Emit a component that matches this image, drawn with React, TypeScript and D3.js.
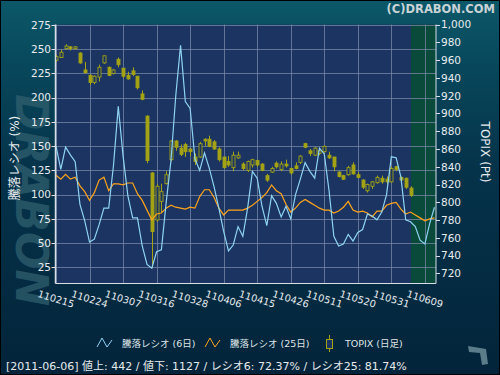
import React from "react";
import * as d3 from "d3";

const tickLabels = ["110215","110224","110307","110316","110328","110406","110415","110426","110511","110520","110531","110609"];
const tickIdx = [0,7,14,21,28,35,42,49,56,63,70,77];
const leftTicks = [25,50,75,100,125,150,175,200,225,250,275];
const rightTicks = [720,740,760,780,800,820,840,860,880,900,920,940,960,980,1000];

const open = [960,963,973,975,973,968,949,943,935,941,
  957,952,945,961,951,943,948,942,922,897,
  833,780,801,821,848,869,861,865,860,851,
  851,871,871,868,860,851,846,839,850,843,
  836,842,847,843,830,834,844,837,843,838,
  841,845,866,858,853,855,857,853,851,834,
  830,831,842,831,825,813,818,822,827,826,
  823,840,828,827,816];
const close = [964,969,976,973,975,957,946,935,942,952,
  965,943,949,955,942,939,944,929,916,847,
  767,818,812,831,869,862,854,857,857,846,
  866,869,863,860,848,839,842,853,853,838,
  846,848,842,836,825,838,840,843,841,833,
  838,852,862,855,861,858,863,850,840,829,
  826,839,832,828,817,820,823,828,823,823,
  838,837,825,817,808];
const high = [966,972,978,976,976,969,958,944,943,955,
  965,953,950,963,951,947,952,942,926,898,
  834,821,821,835,870,870,865,867,861,855,
  868,872,875,870,862,851,852,857,857,845,
  847,849,848,844,832,840,846,846,848,839,
  845,853,867,860,862,860,864,857,851,835,
  831,841,845,834,826,821,824,830,830,829,
  840,841,829,828,818];
const low = [958,963,972,971,972,956,945,932,933,936,
  956,942,944,952,940,938,942,927,915,844,
  726,778,789,820,846,858,852,851,852,842,
  850,863,862,859,846,838,840,835,849,836,
  834,839,840,835,823,833,838,835,839,831,
  837,843,861,852,852,853,856,849,835,828,
  825,830,831,827,815,811,815,821,821,820,
  822,835,823,815,806];
const ratio6 = [150,126,149,141,134,90,73,51,54,69,
  86,86,130,191,140,99,76,76,47,28,
  24,41,43,92,135,202,254,196,189,137,
  125,143,127,108,86,62,42,48,67,57,
  86,124,117,88,68,99,91,77,88,75,
  100,116,133,124,117,148,142,104,57,47,
  49,59,52,61,64,80,78,74,82,100,
  139,138,118,74,72,67,53,49,70,87];
const ratio25 = [120,116,121,116,118,109,103,94,102,115,
  118,104,111,111,110,112,112,101,94,84,
  74,80,81,86,89,87,86,85,87,86,
  98,105,105,97,86,79,84,84,84,84,
  86,89,93,97,102,110,104,101,90,82,
  86,92,95,92,89,86,84,84,81,83,
  87,93,84,82,83,81,77,83,83,89,
  91,92,85,80,82,79,76,73,75,76];

const legendLabels = ["騰落レシオ (6日)", "騰落レシオ (25日)", "TOPIX (日足)"];
const footerText = "[2011-06-06]  値上: 442 / 値下: 1127 / レシオ6: 72.37% / レシオ25: 81.74%";

const W = 500, H = 375;
const P = { left: 55.5, right: 436, top: 24.5, bottom: 283.5 };
const FONT = "'DejaVu Sans', 'Noto Sans CJK JP', sans-serif";

export default function App() {
  const x = d3.scaleLinear().domain([0, 74]).range([56, 410.5]);
  const yL = d3.scaleLinear().domain([25, 275]).range([267.3, 25]);
  const yR = d3.scaleLinear().domain([720, 1000]).range([273.3, 24.7]);
  const line6 = d3.line<number>().x((_, i) => x(i)).y((d) => yL(d));
  const fmt = d3.format(",");
  const olive = "#a3a315";
  const navy = "#1b3461";
  const candles = open.map((o, i) => ({ o, c: close[i], h: high[i], l: low[i], i }));
  const greenX = x(74) + 0.5;

  return (
    <svg width={W} height={H} style={{ position: "fixed", left: 0, top: 0, display: "block" }} fontFamily={FONT}>
      <defs>
        <linearGradient id="bg" x1="0" y1="0" x2="0" y2="1">
          <stop offset="0" stopColor="#0b5869" />
          <stop offset="0.18" stopColor="#08475b" />
          <stop offset="0.45" stopColor="#05334a" />
          <stop offset="1" stopColor="#03243a" />
        </linearGradient>
        <clipPath id="plotclip">
          <rect x={P.left} y={P.top} width={P.right - P.left} height={P.bottom - P.top} />
        </clipPath>
      </defs>
      <rect x={0} y={0} width={W} height={H} fill="url(#bg)" />
      <rect x={0.5} y={0.5} width={W - 1} height={H - 1} fill="none" stroke="#000" />

      {/* watermark */}
      <text transform="translate(16,200) rotate(90)" textAnchor="middle" fontSize={44} fontWeight="bold" fontStyle="italic" fill="#2f5f6e" opacity={0.75} fontFamily="'DejaVu Sans'">DRABON</text>

      <text x={495} y={13} textAnchor="end" fontSize={11.5} fontWeight="bold" fill="#c9d3d6" fontFamily="'DejaVu Sans'">(C)DRABON.COM</text>

      {/* plot bg */}
      <rect x={P.left} y={P.top} width={P.right - P.left} height={P.bottom - P.top} fill={navy} />
      <rect x={greenX} y={P.top} width={P.right - greenX} height={P.bottom - P.top} fill="#0a4a3b" />

      {/* grid */}
      {leftTicks.map((v) => (
        <line key={"gh" + v} x1={P.left} x2={P.right} y1={Math.round(yL(v)) + 0.5} y2={Math.round(yL(v)) + 0.5} stroke="#7384a3" strokeOpacity={0.8} />
      ))}
      {tickIdx.map((t) => (
        <line key={"gv" + t} x1={Math.round(x(t)) + 0.5} x2={Math.round(x(t)) + 0.5} y1={P.top} y2={P.bottom} stroke="#7384a3" strokeOpacity={0.8} />
      ))}

      <g clipPath="url(#plotclip)">
        {candles.map((d) => {
          const up = d.c >= d.o;
          const cx = Math.round(x(d.i)) + 0.5;
          const top = yR(Math.max(d.o, d.c));
          const bot = yR(Math.min(d.o, d.c));
          return (
            <g key={"c" + d.i}>
              <line x1={cx} x2={cx} y1={yR(d.h)} y2={yR(d.l)} stroke={olive} strokeWidth={1} />
              <rect x={cx - 1.5} y={top} width={3} height={Math.max(1.2, bot - top)} fill={up ? navy : olive} stroke={olive} strokeWidth={0.9} />
            </g>
          );
        })}
        <path d={line6(ratio25) || ""} fill="none" stroke="#ffa41a" strokeWidth={1.2} />
        <path d={line6(ratio6) || ""} fill="none" stroke="#8fd3f2" strokeWidth={1.2} />
      </g>

      {/* axes */}
      <line x1={P.left} x2={P.left} y1={P.top} y2={P.bottom} stroke="#d8dde8" strokeWidth={1.5} />
      <line x1={P.left} x2={P.right} y1={P.bottom} y2={P.bottom} stroke="#d8dde8" strokeWidth={1} />
      <line x1={P.right} x2={P.right} y1={P.top} y2={P.bottom} stroke="#d8dde8" strokeWidth={1} />
      {leftTicks.map((v) => (
        <g key={"lt" + v}>
          <line x1={P.left - 4} x2={P.left} y1={Math.round(yL(v)) + 0.5} y2={Math.round(yL(v)) + 0.5} stroke="#d8dde8" />
          <text x={51} y={yL(v)} dy="0.36em" textAnchor="end" fontSize={10.5} fill="#e8ecef">{v}</text>
        </g>
      ))}
      {rightTicks.map((v) => (
        <g key={"rt" + v}>
          <line x1={P.right} x2={P.right + 4} y1={Math.round(yR(v)) + 0.5} y2={Math.round(yR(v)) + 0.5} stroke="#d8dde8" />
          <text x={441} y={yR(v)} dy="0.36em" fontSize={10.5} fill="#e8ecef">{fmt(v)}</text>
        </g>
      ))}
      {tickIdx.map((t, k) => (
        <text key={"xl" + t} transform={`translate(${x(t)},${299}) rotate(17)`} textAnchor="middle" fontSize={9.8} fill="#e8ecef" dy="0.35em">{tickLabels[k]}</text>
      ))}

      {/* axis titles */}
      <text transform="translate(19,158) rotate(-90)" textAnchor="middle" fontSize={12} fill="#e8ecef">騰落レシオ (%)</text>
      <text transform="translate(481,152) rotate(90)" textAnchor="middle" fontSize={12} fill="#e8ecef">TOPIX (Pt)</text>

      {/* legend */}
      <polyline points="97,347 102,338 107,347 112,340" fill="none" stroke="#8fd3f2" strokeWidth={1} />
      <text x={122} y={347} fontSize={9.5} fill="#dfe4e8">{legendLabels[0]}</text>
      <polyline points="205,347 210,338 215,347 220,340" fill="none" stroke="#ffa41a" strokeWidth={1} />
      <text x={230} y={347} fontSize={9.5} fill="#dfe4e8">{legendLabels[1]}</text>
      <line x1={329.5} x2={329.5} y1={335} y2={352} stroke={olive} />
      <rect x={326.5} y={339.5} width={6} height={9} fill={navy} stroke={olive} />
      <text x={345} y={347} fontSize={9.5} fill="#dfe4e8">{legendLabels[2]}</text>

      {/* corner icon */}
      <path d="M468,346 L486,349 L488,364 L482,365 L480,353 L469,352 Z" fill="#5b7d8a" />

      <text x={6} y={370} fontSize={11} fill="#e6eaed">{footerText}</text>
    </svg>
  );
}
